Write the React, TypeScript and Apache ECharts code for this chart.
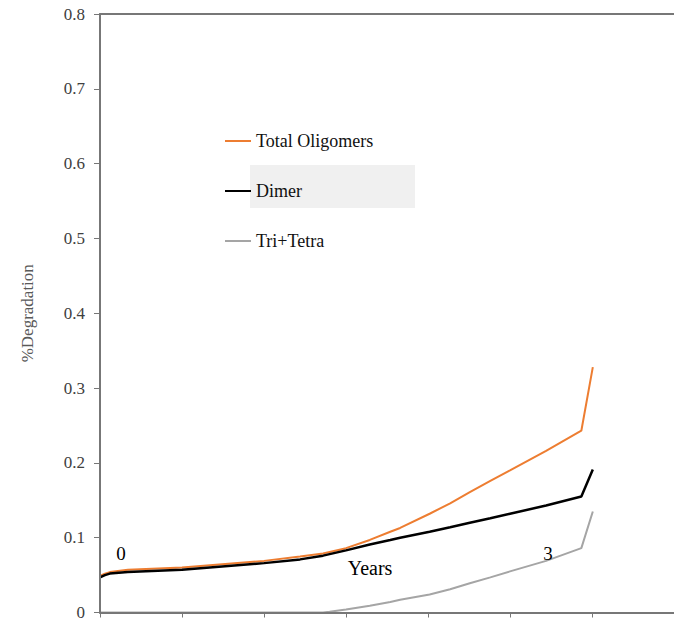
import React, { useEffect, useRef } from "react";
import * as echarts from "echarts";

const xYears = [0, 0.06, 0.12, 0.34, 1, 2, 2.44, 2.72, 2.8, 3, 3.29, 3.54, 3.66, 4.02, 4.27, 4.51, 4.76, 5, 5.44, 5.87, 6.01];
const totalOligomers = [0.049, 0.052, 0.054, 0.057, 0.06, 0.069, 0.075, 0.079, 0.081, 0.086, 0.097, 0.108, 0.113, 0.132, 0.146, 0.161, 0.176, 0.19, 0.216, 0.243, 0.328];
const dimer = [0.047, 0.05, 0.052, 0.054, 0.057, 0.066, 0.071, 0.076, 0.078, 0.083, 0.091, 0.097, 0.1, 0.108, 0.114, 0.12, 0.126, 0.132, 0.143, 0.155, 0.191];
const triTetra = [0, 0, 0, 0, 0, 0, 0, 0, 0.001, 0.004, 0.009, 0.014, 0.017, 0.024, 0.031, 0.039, 0.047, 0.055, 0.069, 0.086, 0.135];
const seriesNames = ["Total Oligomers", "Dimer", "Tri+Tetra"];

const pair = (ys: number[]) => xYears.map((x, i) => [x, ys[i]]);

export default function App() {
  const ref = useRef<HTMLDivElement>(null);
  useEffect(() => {
    if (!ref.current) return;
    const chart = echarts.init(ref.current, null, { renderer: "svg" });
    const serif = "Liberation Serif";
    chart.setOption({
      animation: false,
      backgroundColor: "#ffffff",
      grid: { left: 100, top: 14, right: 0, bottom: 4, containLabel: false },
      legend: {
        orient: "vertical",
        left: 220,
        top: 126,
        itemGap: 30,
        itemWidth: 26,
        itemHeight: 2,
        icon: "rect",
        data: seriesNames,
        textStyle: { fontFamily: serif, fontSize: 18, color: "#111", lineHeight: 20 },
      },
      xAxis: [
        {
          type: "value",
          min: 0,
          max: 7,
          interval: 1,
          position: "bottom",
          z: 6,
          axisLine: { show: true, lineStyle: { color: "#777", width: 2 } },
          axisTick: { show: true, inside: false, length: 5, lineStyle: { color: "#777" } },
          axisLabel: { show: false },
          splitLine: { show: false },
        },
        {
          type: "value",
          min: 0,
          max: 7,
          position: "top",
          axisLine: { show: true, onZero: false, lineStyle: { color: "#777", width: 2 } },
          axisTick: { show: false },
          axisLabel: { show: false },
          splitLine: { show: false },
        },
      ],
      yAxis: {
        type: "value",
        min: 0,
        max: 0.8,
        interval: 0.1,
        name: "%Degradation",
        nameLocation: "middle",
        nameGap: 64,
        z: 6,
        nameTextStyle: { fontFamily: serif, fontSize: 17, color: "#595959" },
        axisLine: { show: true, lineStyle: { color: "#777", width: 2 } },
        axisTick: { show: true, length: 6, lineStyle: { color: "#777" } },
        axisLabel: {
          margin: 15,
          fontFamily: serif,
          fontSize: 17,
          color: "#404040",
          formatter: (v: number) => (v === 0 ? "0" : String(Number(v.toFixed(1)))),
        },
        splitLine: { show: false },
      },
      graphic: [
        {
          type: "rect",
          z: 1,
          shape: { x: 250, y: 165, width: 165, height: 43 },
          style: { fill: "#f0f0f0" },
        },
        {
          type: "text",
          z: 5,
          x: 121,
          y: 553,
          style: { text: "0", fontFamily: serif, fontSize: 19, fill: "#000", align: "center", verticalAlign: "middle" },
        },
        {
          type: "text",
          z: 5,
          x: 548,
          y: 553,
          style: { text: "3", fontFamily: serif, fontSize: 19, fill: "#000", align: "center", verticalAlign: "middle" },
        },
        {
          type: "text",
          z: 5,
          x: 370,
          y: 568,
          style: { text: "Years", fontFamily: serif, fontSize: 20, fill: "#000", align: "center", verticalAlign: "middle" },
        },
      ],
      series: [
        {
          name: seriesNames[0],
          type: "line",
          xAxisIndex: 0,
          data: pair(totalOligomers),
          showSymbol: false,
          symbol: "none",
          z: 3,
          color: "#ED7D31",
          lineStyle: { color: "#ED7D31", width: 2 },
        },
        {
          name: seriesNames[1],
          type: "line",
          xAxisIndex: 0,
          data: pair(dimer),
          showSymbol: false,
          symbol: "none",
          z: 4,
          color: "#000000",
          lineStyle: { color: "#000000", width: 2.5 },
        },
        {
          name: seriesNames[2],
          type: "line",
          xAxisIndex: 0,
          data: pair(triTetra),
          showSymbol: false,
          symbol: "none",
          z: 3,
          color: "#A5A5A5",
          lineStyle: { color: "#A5A5A5", width: 2 },
        },
      ],
    });
    return () => chart.dispose();
  }, []);
  return (
    <div
      ref={ref}
      style={{ position: "fixed", left: 0, top: 0, width: 674, height: 621, background: "#fff" }}
    />
  );
}
